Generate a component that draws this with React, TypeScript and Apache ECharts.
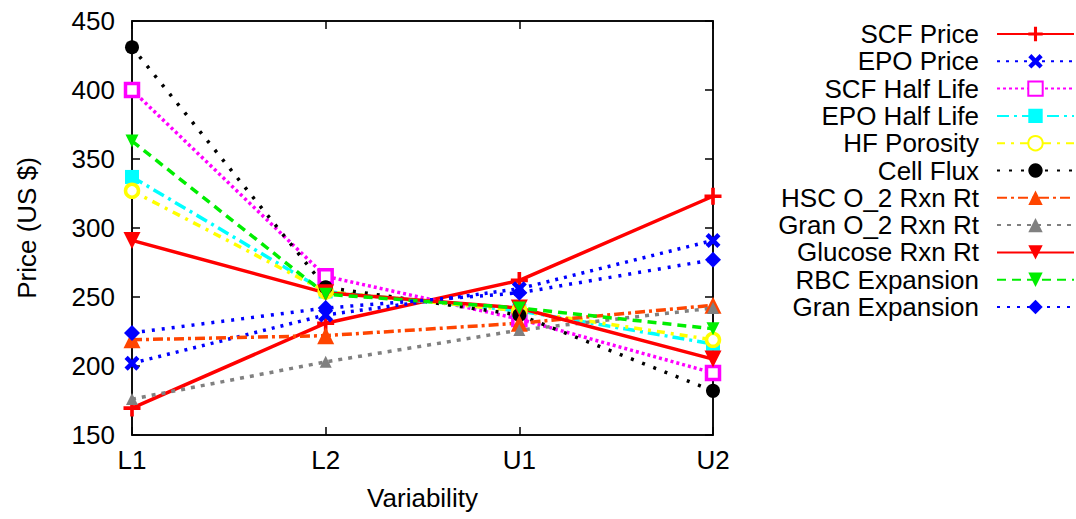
import React, { useEffect, useRef } from "react";
import * as echarts from "echarts";

const categories = ["L1", "L2", "U1", "U2"];
const seriesNames = [
  "SCF Price",
  "EPO Price",
  "SCF Half Life",
  "EPO Half Life",
  "HF Porosity",
  "Cell Flux",
  "HSC O_2 Rxn Rt",
  "Gran O_2 Rxn Rt",
  "Glucose Rxn Rt",
  "RBC Expansion",
  "Gran Expansion",
];
const scfPrice = [169.5, 231, 262, 323];
const epoPrice = [202, 237, 256, 291];
const scfHalfLife = [400, 265, 234, 195];
const epoHalfLife = [337, 254, 240, 216];
const hfPorosity = [327, 254, 240, 219];
const cellFlux = [431, 257, 237, 182];
const hscO2 = [219, 222, 231, 244];
const granO2 = [176, 203, 226, 242];
const glucose = [291, 253, 242, 205];
const rbcExpansion = [363, 252, 242, 227];
const granExpansion = [224, 242, 253, 277];
const yTicks = { min: 150, max: 450, interval: 50 };

const FONT = "Liberation Sans";
const PLUS = "path://M5.5,0H8.5V5.5H14V8.5H8.5V14H5.5V8.5H0V5.5H5.5Z";
const CROSS = "path://M3,0L7,4L11,0L14,3L10,7L14,11L11,14L7,10L3,14L0,11L4,7L0,3Z";

export default function App() {
  const ref = useRef<HTMLDivElement>(null);
  useEffect(() => {
    document.body.style.margin = "0";
    const chart = echarts.init(ref.current!, undefined, { renderer: "svg" });
    const mk = (
      name: string,
      data: number[],
      color: string,
      dash: any,
      symbol: string,
      size: number,
      extra: any = {}
    ) => ({
      name,
      type: "line",
      data,
      symbol,
      symbolSize: size,
      showAllSymbol: true,
      lineStyle: { color, width: 3.5, type: dash, cap: "butt" },
      itemStyle: { color, ...(extra.itemStyle || {}) },
      symbolRotate: extra.rotate || 0,
      emphasis: { disabled: true },
    });
    const series = [
      mk(seriesNames[0], scfPrice, "#ff0000", "solid", PLUS, 17),
      mk(seriesNames[1], epoPrice, "#0000ff", [3, 6], CROSS, 15),
      mk(seriesNames[2], scfHalfLife, "#ff00ff", [3, 3], "rect", 13, {
        itemStyle: { color: "#ffffff", borderColor: "#ff00ff", borderWidth: 3.5 },
      }),
      mk(seriesNames[3], epoHalfLife, "#00ffff", [12, 5, 3, 5], "rect", 14),
      mk(seriesNames[4], hfPorosity, "#ffff00", [8, 6, 3, 6], "circle", 13, {
        itemStyle: { color: "#ffffff", borderColor: "#ffff00", borderWidth: 3.5 },
      }),
      mk(seriesNames[5], cellFlux, "#000000", [3, 9], "circle", 14),
      mk(seriesNames[6], hscO2, "#ff4500", [10, 4, 3, 4], "triangle", 17),
      mk(seriesNames[7], granO2, "#808080", [4, 6], "triangle", 12),
      mk(seriesNames[8], glucose, "#ff0000", "solid", "triangle", 17, { rotate: 180 }),
      mk(seriesNames[9], rbcExpansion, "#00ee00", [9, 6], "triangle", 13, { rotate: 180 }),
      mk(seriesNames[10], granExpansion, "#0000ff", [3, 7], "diamond", 16),
    ];
    const axisLine = { show: true, lineStyle: { color: "#000", width: 1.5 } };
    const tick = { show: true, inside: true, length: 8, lineStyle: { color: "#000", width: 1.5 } };
    chart.setOption({
      animation: false,
      textStyle: { fontFamily: FONT },
      grid: { left: 132, right: 363, top: 21, bottom: 84, show: true, borderColor: "#000", borderWidth: 1.5 },
      legend: {
        orient: "vertical",
        right: 1,
        top: 21,
        padding: 0,
        align: "right",
        itemWidth: 77,
        itemHeight: 18,
        itemGap: 1.3,
        selectedMode: false,
        textStyle: { fontSize: 26, fontFamily: FONT, color: "#000", padding: [0, 13, 0, 0] },
        data: seriesNames,
      },
      xAxis: [
        {
          type: "category",
          data: categories,
          boundaryGap: false,
          position: "bottom",
          axisLine,
          axisTick: tick,
          axisLabel: { fontSize: 26, color: "#000", margin: 12, fontFamily: FONT },
          splitLine: { show: false },
          name: "Variability",
          nameLocation: "middle",
          nameGap: 50,
          nameTextStyle: { fontSize: 26, color: "#000", fontFamily: FONT },
        },
        {
          type: "category",
          data: categories,
          boundaryGap: false,
          position: "top",
          axisLine,
          axisTick: tick,
          axisLabel: { show: false },
          splitLine: { show: false },
        },
      ],
      yAxis: [
        {
          type: "value",
          ...yTicks,
          position: "left",
          axisLine,
          axisTick: tick,
          axisLabel: { fontSize: 26, color: "#000", margin: 17, fontFamily: FONT },
          splitLine: { show: false },
          name: "Price (US $)",
          nameLocation: "middle",
          nameGap: 92,
          nameTextStyle: { fontSize: 26, color: "#000", fontFamily: FONT },
        },
        {
          type: "value",
          ...yTicks,
          position: "right",
          axisLine,
          axisTick: tick,
          axisLabel: { show: false },
          splitLine: { show: false },
        },
      ],
      series,
    });
    return () => chart.dispose();
  }, []);
  return <div ref={ref} style={{ width: 1076, height: 519 }} />;
}
